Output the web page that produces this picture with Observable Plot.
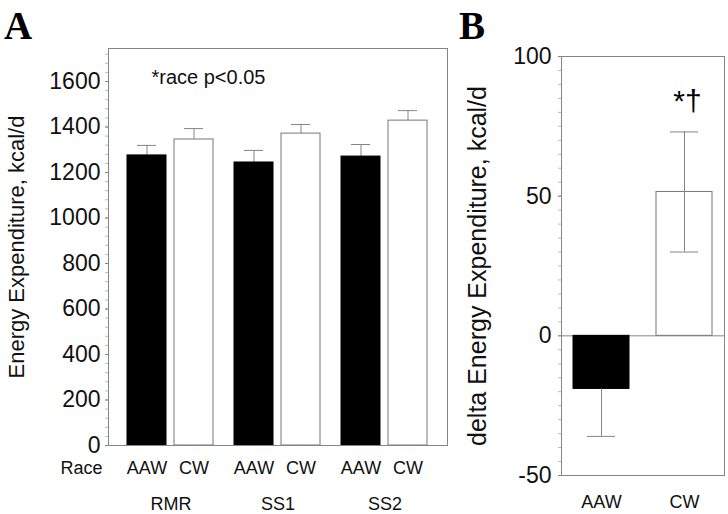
<!DOCTYPE html>
<html>
<head>
<meta charset="utf-8">
<script src="https://cdn.jsdelivr.net/npm/d3@7"></script>
<script src="https://cdn.jsdelivr.net/npm/@observablehq/plot@0.6"></script>
<style>
  html, body { margin: 0; padding: 0; background: #fff; }
  #wrap { position: relative; width: 728px; height: 514px; background: #fff; overflow: hidden;
          font-family: "Liberation Sans", Arial, sans-serif; }
  #wrap svg { position: absolute; top: 0; background: transparent !important; }
  .panel { position: absolute; font-family: "Liberation Serif", "Times New Roman", serif; font-weight: bold; font-size: 39px; line-height: 1; }
</style>
</head>
<body>
<div id="wrap">
  <div class="panel" style="left:4px; top:6px;">A</div>
  <div class="panel" style="left:459px; top:6px;">B</div>
</div>
<script>
// ---- data ----
const groups = ["RMR", "SS1", "SS2"];
const races = ["AAW", "CW"];
const eeAAW = [1275, 1244, 1270];
const eeCW = [1345, 1371, 1428];
const seAAW = [44, 53, 53];
const seCW = [48, 40, 44];
const yTicksA = [0, 200, 400, 600, 800, 1000, 1200, 1400, 1600];

const deltaRaces = ["AAW", "CW"];
const deltaValues = [-19, 51.5];
const deltaSE = [17, 21.5];
const deltaSig = ["", "*\u2020"];
const yTicksB = [-50, 0, 50, 100];

const FONT = "Liberation Sans, Arial, sans-serif";
const GRAY = "#858585";
const fmt = d => String(d);

const tableA = [];
groups.forEach((g, i) => {
  tableA.push({group: g, race: "AAW", value: eeAAW[i], se: seAAW[i]});
  tableA.push({group: g, race: "CW", value: eeCW[i], se: seCW[i]});
});
const tableB = deltaRaces.map((r, i) => ({race: r, value: deltaValues[i], se: deltaSE[i], sig: deltaSig[i]}));

const wrap = document.getElementById("wrap");

// ---- Panel A (bars, faceted by condition) ----
const dimA = {width: 452, height: 514, marginLeft: 108, marginRight: 5, marginTop: 48, marginBottom: 69};
const yDomA = [0, 1745];

const plotA = Plot.plot({
  ...dimA,
  style: {fontFamily: FONT, background: "transparent"},
  fx: {domain: groups, paddingInner: 0, paddingOuter: 0.084, label: null},
  x: {domain: races, paddingInner: 0.17, paddingOuter: 0.223, label: null},
  y: {domain: yDomA, axis: null},
  marks: [
    Plot.ruleX(tableA, {fx: "group", x: "race", y1: "value", y2: d => d.value + d.se, stroke: GRAY, strokeWidth: 1}),
    Plot.tickY(tableA, {fx: "group", x: "race", y: d => d.value + d.se, stroke: GRAY, strokeWidth: 1, insetLeft: 10, insetRight: 10}),
    Plot.barY(tableA, {fx: "group", x: "race", y: "value",
      fill: d => d.race === "AAW" ? "#000" : "#fff",
      stroke: d => d.race === "AAW" ? "#000" : "#777", strokeWidth: 1}),
    Plot.axisX({tickSize: 0, tickPadding: 16, fontSize: 18, label: null, fill: "#111"}),
    Plot.axisFx({anchor: "bottom", tickSize: 0, tickPadding: 52, fontSize: 18, label: null, fill: "#111"})
  ]
});
plotA.style.left = "0px";
wrap.appendChild(plotA);

// overlay for frame + y axis spanning all facets
const overA = Plot.plot({
  ...dimA,
  style: {fontFamily: FONT, background: "transparent"},
  y: {domain: yDomA, axis: null},
  marks: [
    Plot.frame({stroke: GRAY, strokeWidth: 1}),
    Plot.axisY(d3.range(0, 1745, 40), {tickSize: 3, tickFormat: () => "", label: null, stroke: "#bbb"}),
    Plot.axisY(yTicksA, {tickSize: 3, tickPadding: 5, fontSize: 23, fill: "#111", stroke: GRAY, tickFormat: fmt, label: null}),
    Plot.axisY({tickSize: 0, tickFormat: () => "", fontSize: 22, fill: "#111",
      label: "Energy Expenditure, kcal/d", labelAnchor: "center", labelArrow: "none", labelOffset: 100}),
    Plot.text(["Race"], {text: d => d, frameAnchor: "bottom-left", dx: -6, dy: 23, textAnchor: "end", lineAnchor: "middle", fontSize: 18, fill: "#111"}),
    Plot.text(["*race p<0.05"], {text: d => d, frameAnchor: "top-left", dx: 43, dy: 29, textAnchor: "start", lineAnchor: "middle", fontSize: 20, fill: "#111"})
  ]
});
overA.style.left = "0px";
overA.style.pointerEvents = "none";
wrap.appendChild(overA);

// ---- Panel B (delta) ----
const plotB = Plot.plot({
  width: 276, height: 514, marginLeft: 109, marginRight: 4, marginTop: 56, marginBottom: 39,
  style: {fontFamily: FONT, background: "transparent"},
  x: {domain: deltaRaces, paddingInner: 0.325, paddingOuter: 0.144, label: null},
  y: {domain: [-50, 100], axis: null},
  marks: [
    Plot.frame({stroke: GRAY, strokeWidth: 1}),
    Plot.ruleY([0], {stroke: GRAY, strokeWidth: 1}),
    Plot.barY(tableB, {x: "race", y: "value",
      fill: d => d.race === "AAW" ? "#000" : "#fff",
      stroke: d => d.race === "AAW" ? "#000" : "#777", strokeWidth: 1}),
    Plot.ruleX(tableB, {x: "race", y1: d => d.value - d.se, y2: d => d.value + d.se, stroke: GRAY, strokeWidth: 1}),
    Plot.tickY(tableB, {x: "race", y: d => d.value - d.se, stroke: GRAY, strokeWidth: 1, insetLeft: 14, insetRight: 14}),
    Plot.tickY(tableB, {x: "race", y: d => d.value + d.se, stroke: GRAY, strokeWidth: 1, insetLeft: 14, insetRight: 14}),
    Plot.barY(tableB.filter(d => d.race === "AAW"), {x: "race", y: "value", fill: "#000"}),
    Plot.text(tableB, {x: "race", y: d => d.value + d.se, text: "sig", dy: -31, dx: 3, lineAnchor: "middle", fontSize: 30, fill: "#000"}),
    Plot.axisY(d3.range(-50, 101, 5), {tickSize: 3, tickFormat: () => "", label: null, stroke: "#bbb"}),
    Plot.axisY(yTicksB, {tickSize: 3, tickPadding: 7, fontSize: 23, fill: "#111", stroke: GRAY, tickFormat: fmt, label: null}),
    Plot.axisY({tickSize: 0, tickFormat: () => "", fontSize: 25, fill: "#111",
      label: "delta Energy Expenditure, kcal/d", labelAnchor: "center", labelArrow: "none", labelOffset: 93}),
    Plot.axisX({tickSize: 0, tickPadding: 20, fontSize: 18, label: null, fill: "#111"})
  ]
});
plotB.style.left = "452px";
wrap.appendChild(plotB);
</script>
</body>
</html>
